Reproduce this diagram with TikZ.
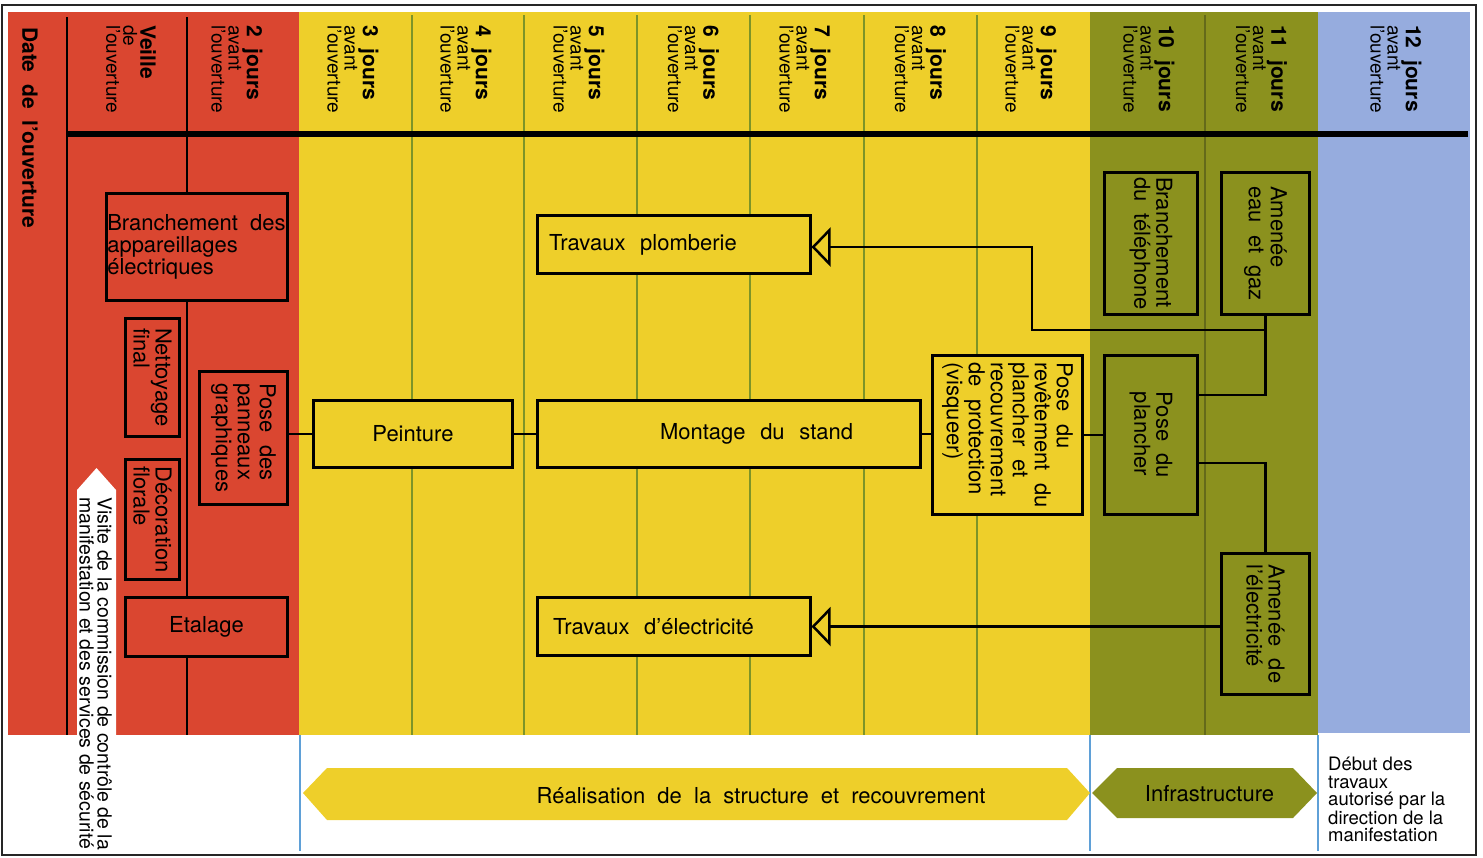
\documentclass[tikz,border=0pt]{standalone}
\usepackage{fontspec}
\setmainfont{TeX Gyre Heros}[WordSpace=2]
\newfontfamily\plainsans{TeX Gyre Heros}
\usetikzlibrary{arrows.meta}

\definecolor{redbg}{RGB}{218,70,48}
\definecolor{yellowbg}{RGB}{238,207,42}
\definecolor{olivebg}{RGB}{139,145,30}
\definecolor{bluebg}{RGB}{150,172,222}
\definecolor{gridgreen}{RGB}{125,148,40}
\definecolor{gridolive}{RGB}{100,106,26}
\definecolor{rulerblue}{RGB}{95,160,215}

\tikzset{
  taskbox/.style={draw, line width=3pt, inner sep=2pt, font=\fontsize{22}{22}\selectfont, align=left},
  vtask/.style={taskbox, rotate=-90},
  link/.style={line width=2.5pt},
  opentip/.style={-{Triangle[open, length=19pt, width=39pt]}},
  daylabel/.style={rotate=-90, anchor=west, align=left, inner sep=0pt, font=\fontsize{19}{17}\selectfont},
  gridline/.style={gridgreen, line width=1.5pt},
}

\begin{document}
\begin{tikzpicture}[x=1pt,y=-1pt]
\useasboundingbox (0,0) rectangle (1483,857);

%Shape: Rectangle (bands)
\fill[redbg] (8,12) rectangle (299,735);
\fill[yellowbg] (299,12) rectangle (1090,735);
\fill[olivebg] (1090,12) rectangle (1318,735);
\fill[bluebg] (1318,12) rectangle (1470,733);

%Straight Lines (day columns)
\draw[line width=2pt] (67,17) -- (67,735);
\draw[line width=2pt] (187,17) -- (187,735);
\foreach \x in {412,524,637,750,864,977}
  \draw[gridline] (\x,15) -- (\x,735);
\draw[gridolive, line width=1.5pt] (1205,15) -- (1205,735);
\draw[line width=6pt] (67,134) -- (1468,134);

% Text Node (header)
\node[rotate=-90, anchor=west, inner sep=0pt, font=\fontsize{21}{21}\selectfont\bfseries] (datelabel) at (30,27) {Date de l'ouverture};
\node[daylabel] (veille) at (131,25) {{\fontsize{21}{17}\selectfont\bfseries Veille}\\de\\l'ouverture};
\foreach \cx/\n in {237/2, 353/3, 466/4, 579/5, 693.5/6, 805/7, 920.5/8, 1031/9, 1149/10, 1261.5/11, 1396/12}
  \node[daylabel] (day\n) at (\cx,25) {{\fontsize{21}{17}\selectfont\bfseries \n\ jours}\\avant\\l'ouverture};

%Shape: Arrow (visite)
\fill[white] (77,490) -- (96.5,468) -- (116,490) -- (116,736) -- (77,736) -- cycle;
\node[rotate=-90, anchor=west, align=left, inner sep=0pt, font=\plainsans\fontsize{19.5}{18}\selectfont] (visite) at (95.5,497) {Visite de la commission de contrôle de la\\manifestation et des services de sécurité};

% Text Node (tasks, red)
\node[taskbox, fill=redbg, minimum width=181pt, minimum height=107pt, inner sep=1pt] (branchement) at (196.5,247) {Branchement des\\appareillages\\électriques};
\node[vtask, fill=redbg, minimum width=118pt, minimum height=54pt] (nettoyage) at (152.5,377.5) {Nettoyage\\final};
\node[vtask, fill=redbg, minimum width=133pt, minimum height=88pt] (panneaux) at (243.5,438) {Pose des\\panneaux\\graphiques};
\node[vtask, fill=redbg, minimum width=120pt, minimum height=54pt] (decoration) at (152.5,519.5) {Décoration\\florale};
\node[taskbox, fill=redbg, align=center, minimum width=162pt, minimum height=59pt] (etalage) at (206.5,627) {Etalage};

% Text Node (tasks, yellow)
\node[taskbox, fill=yellowbg, align=center, minimum width=199pt, minimum height=67pt] (peinture) at (413,434) {Peinture};
\node[taskbox, fill=yellowbg, text width=359pt, inner xsep=12pt, minimum height=67pt] (montage) at (728.5,434) {\hspace*{111pt}Montage~~du~~stand};
\node[taskbox, fill=yellowbg, text width=249pt, inner xsep=12pt, minimum height=58pt] (plomberie) at (673.5,244.5) {Travaux~~plomberie};
\node[taskbox, fill=yellowbg, text width=241pt, inner xsep=16pt, minimum height=58pt] (travelec) at (673.5,626.5) {Travaux~~d'électricité};
\node[vtask, fill=yellowbg, minimum width=159pt, minimum height=150pt] (revetement) at (1007.5,435) {Pose du\\revêtement du\\plancher et\\recouvrement\\de protection\\(visqueer)};

% Text Node (tasks, olive)
\node[vtask, fill=olivebg, minimum width=142pt, minimum height=93pt] (telephone) at (1151,243.5) {Branchement\\du téléphone};
\node[vtask, fill=olivebg, minimum width=142pt, minimum height=88pt] (eaugaz) at (1265.5,243.5) {Amenée\\eau et gaz};
\node[vtask, fill=olivebg, minimum width=159pt, minimum height=93pt] (plancher) at (1151,435) {Pose du\\plancher};
\node[vtask, fill=olivebg, minimum width=141pt, minimum height=88pt] (elec) at (1265.5,624) {Amenée de\\l'électricité};

%Straight Lines (links)
\draw[link] (peinture.west) -- (peinture.west -| panneaux.north);
\draw[link] (peinture.east) -- (montage.west);
\draw[link] (montage.east) -- (montage.east -| revetement.south);
\draw[link] (revetement.north) -- (plancher.south);
\draw[link] (eaugaz.east) |- (plancher.north |- 0,395);
\coordinate (gazjoint) at (eaugaz.east |- 0,330);
\coordinate (plombkink) at (1032,247);
\draw[link, opentip] (gazjoint) -| (plombkink) -- (plombkink -| plomberie.east);
\draw[link] (plancher.north |- 0,463) -| (elec.west);
\draw[link, opentip] (elec.south |- travelec.east) -- (travelec.east);

%Straight Lines (bottom scale)
\foreach \x in {300,1090,1318}
  \draw[rulerblue, line width=2pt] (\x,735) -- (\x,851);

%Shape: Hexagon
\fill[yellowbg] (303,793) -- (327,768) -- (1067,768) -- (1090,793) -- (1067,820) -- (327,820) -- cycle;
\node[font=\fontsize{22}{22}\selectfont] (realisation) at (761,796) {Réalisation de la structure et recouvrement};
\fill[olivebg] (1092,793) -- (1117,768) -- (1293,768) -- (1317,793) -- (1293,818) -- (1117,818) -- cycle;
\node[font=\fontsize{22}{22}\selectfont] (infra) at (1209.5,794) {Infrastructure};

% Text Node
\node[anchor=north west, align=left, inner sep=0pt, font=\plainsans\fontsize{18.5}{17.5}\selectfont] (debut) at (1328,757) {Début des\\travaux\\autorisé par la\\direction de la\\manifestation};

%Shape: Frame
\draw[black!85, line width=1.8pt] (2,5) rectangle (1476,855);
\end{tikzpicture}
\end{document}
